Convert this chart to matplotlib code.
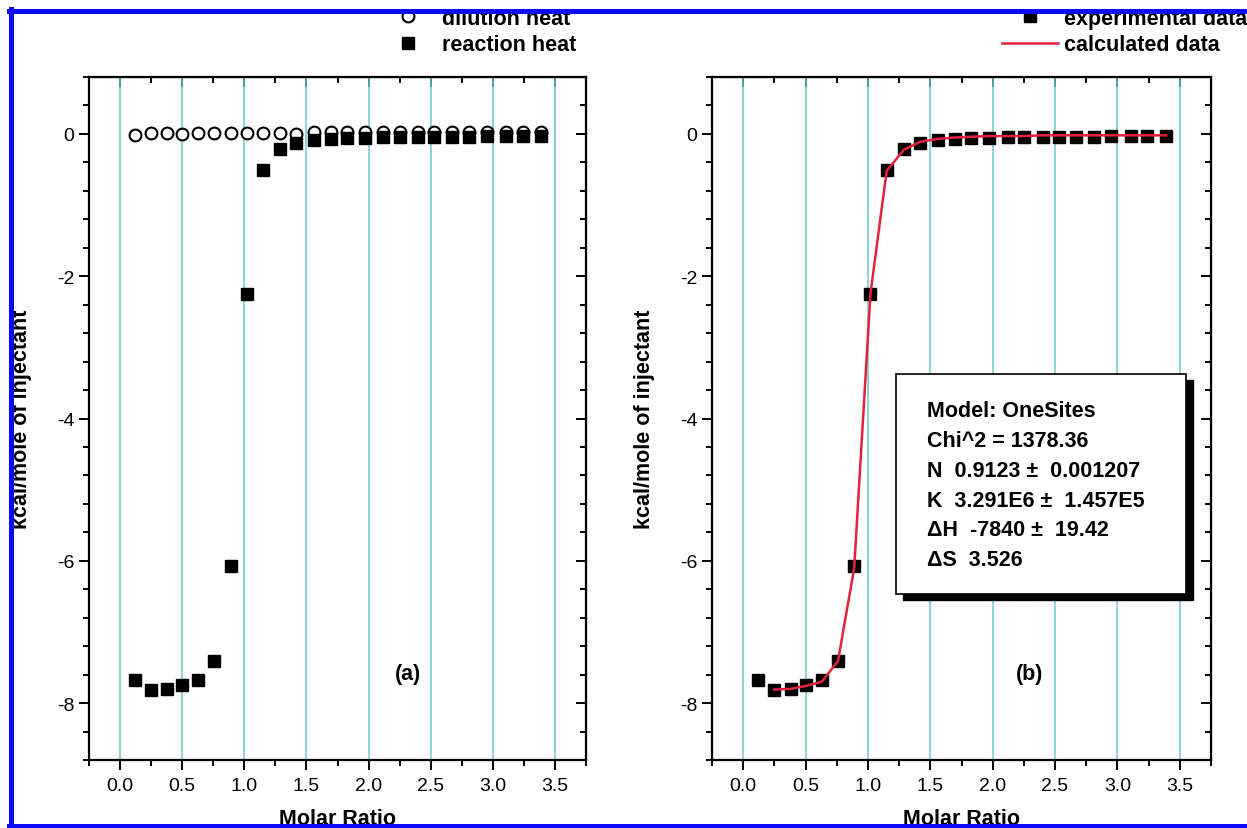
import matplotlib
matplotlib.use("Agg")
import matplotlib.pyplot as plt
from matplotlib.ticker import MultipleLocator
from matplotlib.patches import Rectangle
from matplotlib.lines import Line2D

plt.rcParams["font.family"] = ["Liberation Sans", "DejaVu Sans"]
plt.rcParams["axes.unicode_minus"] = False

# data
molar_ratio = [0.12, 0.25, 0.38, 0.50, 0.63, 0.76, 0.89, 1.02, 1.15, 1.29, 1.42, 1.56, 1.70,
               1.83, 1.97, 2.12, 2.25, 2.40, 2.53, 2.67, 2.81, 2.95, 3.11, 3.24, 3.39]
reaction_heat = [-7.68, -7.81, -7.80, -7.75, -7.67, -7.41, -6.08, -2.25, -0.51, -0.21, -0.13,
                 -0.09, -0.07, -0.06, -0.06, -0.05, -0.05, -0.04, -0.04, -0.04, -0.04, -0.03,
                 -0.03, -0.03, -0.03]
dilution_heat = [-0.01, 0.01, 0.01, 0.00, 0.01, 0.01, 0.01, 0.01, 0.01, 0.01, 0.00, 0.02, 0.03,
                 0.02, 0.02, 0.03, 0.02, 0.02, 0.02, 0.02, 0.02, 0.02, 0.02, 0.02, 0.02]
calc_ratio = molar_ratio[1:]
calc_heat = [-7.81, -7.80, -7.76, -7.70, -7.41, -6.10, -2.25, -0.52, -0.22, -0.11, -0.07, -0.05,
             -0.04, -0.03, -0.03, -0.03, -0.02, -0.02, -0.02, -0.02, -0.02, -0.02, -0.02, -0.02]
fit_lines = ["Model: OneSites", "Chi^2 = 1378.36", "N  0.9123 \u00b1  0.001207",
             "K  3.291E6 \u00b1  1.457E5", "\u0394H  -7840 \u00b1  19.42", "\u0394S  3.526"]

W, H = 1247, 829
fig = plt.figure(figsize=(W / 100, H / 100), dpi=100)
ax1 = fig.add_axes([89 / W, 1 - 761 / H, 497 / W, 683 / H])
ax2 = fig.add_axes([712 / W, 1 - 761 / H, 499 / W, 683 / H])

bold = {"family": "Liberation Sans", "weight": "bold", "size": 15.5}
grid_col = "#6cc9cc"

for ax in (ax1, ax2):
    ax.set_xlim(-0.25, 3.75)
    ax.set_ylim(-8.8, 0.8)
    ax.xaxis.set_major_locator(MultipleLocator(0.5))
    ax.xaxis.set_minor_locator(MultipleLocator(0.25))
    ax.yaxis.set_major_locator(MultipleLocator(2))
    ax.yaxis.set_minor_locator(MultipleLocator(0.4))
    ax.grid(axis="x", which="major", color=grid_col, lw=1.1)
    ax.set_axisbelow(True)
    for s in ax.spines.values():
        s.set_linewidth(1.6)
    ax.tick_params(which="both", direction="out", width=1.4, labelsize=14, top=False, right=False)
    ax.tick_params(which="major", length=7)
    ax.tick_params(which="minor", length=4.5)
    ax.tick_params(axis="x", which="major", pad=5)
    # inward ticks on top and right
    top = ax.secondary_xaxis("top")
    top.xaxis.set_major_locator(MultipleLocator(0.5))
    top.xaxis.set_minor_locator(MultipleLocator(0.25))
    top.tick_params(which="both", direction="in", width=1.4, labeltop=False)
    top.tick_params(which="major", length=7)
    top.tick_params(which="minor", length=4.5)
    right = ax.secondary_yaxis("right")
    right.yaxis.set_major_locator(MultipleLocator(2))
    right.yaxis.set_minor_locator(MultipleLocator(0.4))
    right.tick_params(which="both", direction="in", width=1.4, labelright=False)
    right.tick_params(which="major", length=7)
    right.tick_params(which="minor", length=4.5)
    ax.set_xlabel("Molar Ratio", fontdict=bold)
    ax.xaxis.set_label_coords(0.5, -0.071)
    ax.set_ylabel("kcal/mole of injectant", fontdict=bold)
    ax.yaxis.set_label_coords(-0.115, 0.5)

# (a)
ax1.plot(molar_ratio, dilution_heat, "o", ms=8.5, mfc="white", mec="black", mew=1.5,
         label="dilution heat")
ax1.plot(molar_ratio, reaction_heat, "s", ms=8.5, color="black", label="reaction heat")
ax1.text(0.642, 0.126, "(a)", transform=ax1.transAxes, ha="center", va="center", fontdict=bold)
ax1.legend(loc="center left", bbox_to_anchor=(380 / W, 1 - 32.5 / H),
           bbox_transform=fig.transFigure, frameon=False, borderpad=0, borderaxespad=0,
           handlelength=2.6, handletextpad=0.3, labelspacing=0.25, prop=bold)

# (b)
ax2.plot(molar_ratio, reaction_heat, "s", ms=8.5, color="black", label="experimental data",
         zorder=2)
ax2.plot(calc_ratio, calc_heat, "-", color="#e4223e", lw=1.8, label="calculated data", zorder=3)
ax2.text(0.637, 0.126, "(b)", transform=ax2.transAxes, ha="center", va="center", fontdict=bold)
ax2.legend(loc="center left", bbox_to_anchor=(1002 / W, 1 - 32.5 / H),
           bbox_transform=fig.transFigure, frameon=False, borderpad=0, borderaxespad=0,
           handlelength=2.6, handletextpad=0.3, labelspacing=0.25, prop=bold)

# fit results box with drop shadow
bx, by, bw, bh = 0.369, 0.243, 0.581, 0.322
ax2.add_patch(Rectangle((bx + 0.014, by - 0.009), bw, bh, transform=ax2.transAxes,
                        facecolor="black", edgecolor="black", zorder=5))
ax2.add_patch(Rectangle((bx, by), bw, bh, transform=ax2.transAxes,
                        facecolor="white", edgecolor="black", lw=1.2, zorder=6))
for i, line in enumerate(fit_lines):
    ax2.text(0.431, 0.511 - i * 0.0435, line, transform=ax2.transAxes, ha="left",
             va="center", fontdict=bold, zorder=7)

# blue frame around the figure
frame = dict(color="#0a0af5", lw=3.6, transform=fig.transFigure, zorder=20)
fig.add_artist(Line2D([10.5 / W, 10.5 / W], [0, 1 - 10 / H], **frame))
fig.add_artist(Line2D([8.5 / W, 1], [1 - 12 / H, 1 - 12 / H], **frame))
fig.add_artist(Line2D([8.5 / W, 1], [2.5 / H, 2.5 / H], **frame))

fig.savefig("out.png", dpi=100)
